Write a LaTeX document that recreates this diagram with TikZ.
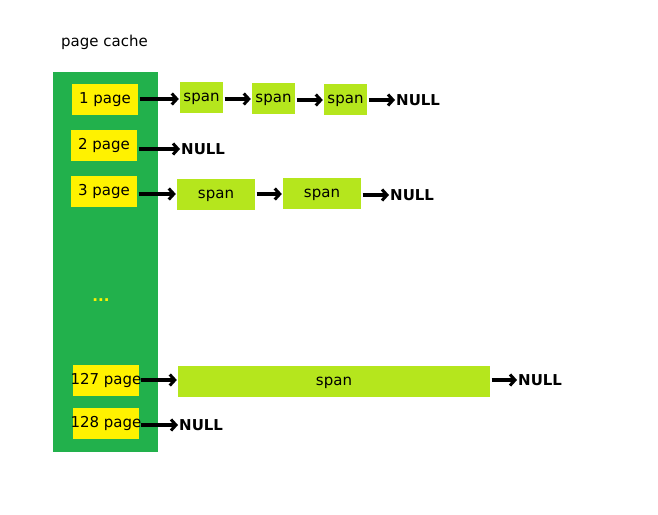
\documentclass[tikz,border=0pt]{standalone}
\usepackage{fontspec}
\setmainfont{DejaVu Sans}
\usetikzlibrary{arrows.meta}
\definecolor{cgreen}{HTML}{22B14C}
\definecolor{cyellow}{HTML}{FFF200}
\definecolor{clime}{HTML}{B5E61D}
\tikzset{
  pagebox/.style={fill=cyellow, inner sep=0pt, minimum width=66pt, minimum height=31pt, text height=11pt, text depth=3pt},
  widepage/.style={fill=cyellow, inner sep=0pt, minimum width=66pt, minimum height=31pt, label={[inner sep=0pt, text height=11pt, text depth=3pt]center:#1}},
  spanbox/.style={fill=clime, inner sep=0pt, minimum height=31pt, text height=11pt, text depth=3pt},
  nullnode/.style={inner sep=0pt, anchor=west, font=\fontsize{15}{18}\selectfont\bfseries},
  link/.style={line width=3.2pt, -{Straight Barb[length=5pt,width=11pt,line width=3pt]}, shorten <=1.5pt, shorten >=1pt}
}
\begin{document}
\begin{tikzpicture}[x=1pt,y=-1pt, every node/.style={font=\fontsize{15}{18}\selectfont}]
\useasboundingbox (0,0) rectangle (658,514);
\node[anchor=west, inner sep=0pt] (title) at (61,42) {page cache};
\node[fill=cgreen, inner sep=0pt, minimum width=105pt, minimum height=380pt] (cache) at (105.5,262) {};
\node[pagebox] (p1) at (105,99.5) {1 page};
\node[pagebox] (p2) at (104,145.5) {2 page};
\node[pagebox] (p3) at (104,191.5) {3 page};
\node[text=cyellow, inner sep=0pt, font=\fontsize{15}{18}\selectfont\bfseries] (dots) at (101,300) {...};
\node[widepage={127 page}] (p127) at (106,380.5) {};
\node[widepage={128 page}] (p128) at (106,423.5) {};
% row 1
\node[spanbox, minimum width=43pt] (s11) at (201.5,97.5) {span};
\node[spanbox, minimum width=43pt] (s12) at (273.5,98.5) {span};
\node[spanbox, minimum width=43pt] (s13) at (345.5,99.5) {span};
\node[nullnode] (n1) at (396,100) {NULL};
\draw[link] (p1.east |- 0,99) -- (s11.west |- 0,99);
\draw[link] (s11.east |- 0,99) -- (s12.west |- 0,99);
\draw[link] (s12.east |- 0,100) -- (s13.west |- 0,100);
\draw[link] (s13.east |- 0,100) -- (n1.west);
% row 2
\node[nullnode] (n2) at (181,149) {NULL};
\draw[link] (p2.east |- n2.west) -- (n2.west);
% row 3
\node[spanbox, minimum width=78pt] (s31) at (216,194.5) {span};
\node[spanbox, minimum width=78pt] (s32) at (322,193.5) {span};
\node[nullnode] (n3) at (390,195) {NULL};
\draw[link] (p3.east |- 0,194) -- (s31.west |- 0,194);
\draw[link] (s31.east |- 0,194) -- (s32.west |- 0,194);
\draw[link] (s32.east |- n3.west) -- (n3.west);
% row 127
\node[spanbox, minimum width=312pt] (s127) at (334,381.5) {span};
\node[nullnode] (n127) at (518,380) {NULL};
\draw[link] (p127.east |- 0,380) -- (s127.west |- 0,380);
\draw[link] (s127.east |- n127.west) -- (n127.west);
% row 128
\node[nullnode] (n128) at (179,425) {NULL};
\draw[link] (p128.east |- n128.west) -- (n128.west);
\end{tikzpicture}
\end{document}
